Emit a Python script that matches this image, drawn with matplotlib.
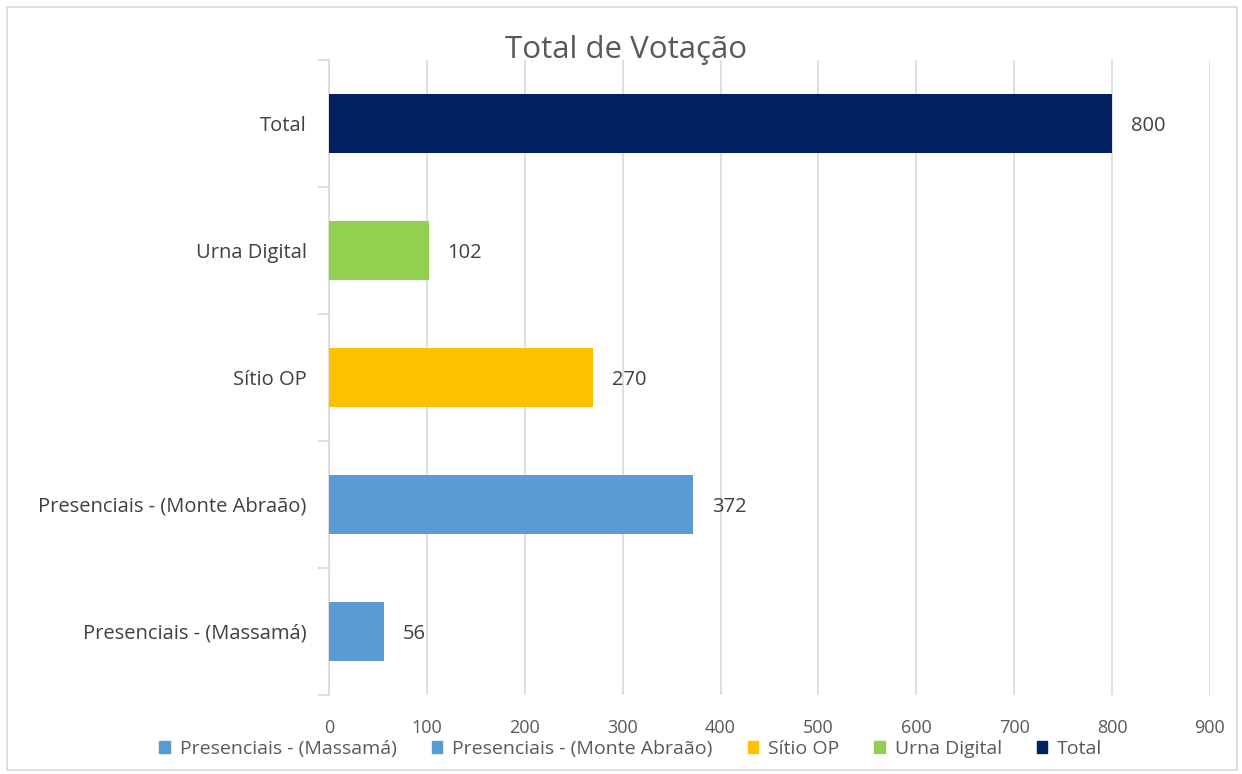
import matplotlib.pyplot as plt
from matplotlib.patches import Rectangle, Patch

# data
categorias = ['Presenciais - (Massamá)', 'Presenciais - (Monte Abraão)',
              'Sítio OP', 'Urna Digital', 'Total']
votos = [56, 372, 270, 102, 800]
cores = ['#5B9BD5', '#5B9BD5', '#FFC000', '#92D050', '#002060']
xticks = [0, 100, 200, 300, 400, 500, 600, 700, 800, 900]

plt.rcParams['font.family'] = ['Open Sans', 'DejaVu Sans']

fig = plt.figure(figsize=(12.42, 7.74), dpi=100)
ax = fig.add_axes([0.2649, 0.1021, 0.7093, 0.8204])

pos = range(len(categorias))
ax.barh(pos, votos, height=0.47, color=cores, zorder=3)
for p, v in zip(pos, votos):
    ax.text(v + 19, p - 0.02, str(v), va='center', ha='left', fontsize=14.5,
            color='#404040')

ax.set_xlim(0, 900)
ax.set_ylim(-0.5, len(categorias) - 0.5)
ax.set_xticks(xticks)
ax.set_yticks(list(pos))
ax.set_yticklabels(categorias)
ax.set_yticks([i - 0.5 for i in range(len(categorias) + 1)], minor=True)
ax.grid(axis='x', color='#D9D9D9', linewidth=1.2, zorder=0)

for s in ['top', 'right', 'bottom']:
    ax.spines[s].set_visible(False)
ax.spines['left'].set_color('#D9D9D9')
ax.spines['left'].set_linewidth(1.2)
ax.tick_params(axis='y', which='major', length=0, pad=16, labelsize=14.5,
               labelcolor='#404040')
ax.tick_params(axis='y', which='minor', length=8, color='#D9D9D9', width=1.2)
ax.tick_params(axis='x', length=0, pad=17, labelsize=13, labelcolor='#595959')

fig.text(0.504, 0.935, 'Total de Votação', ha='center', va='center',
         fontsize=22.5, color='#595959')

handles = [Patch(color=c) for c in cores]
fig.legend(handles, categorias, loc='center', bbox_to_anchor=(0.508, 0.032),
           ncol=5, frameon=False, fontsize=14, handlelength=0.55,
           handleheight=0.55, handletextpad=0.5, columnspacing=1.8,
           labelcolor='#595959', borderpad=0.1)

fig.patches.append(Rectangle((7 / 1242, 4 / 774), 1230 / 1242, 763 / 774,
                             transform=fig.transFigure, fill=False,
                             edgecolor='#D9D9D9', linewidth=1.2))

fig.savefig('out.png', dpi=100)
